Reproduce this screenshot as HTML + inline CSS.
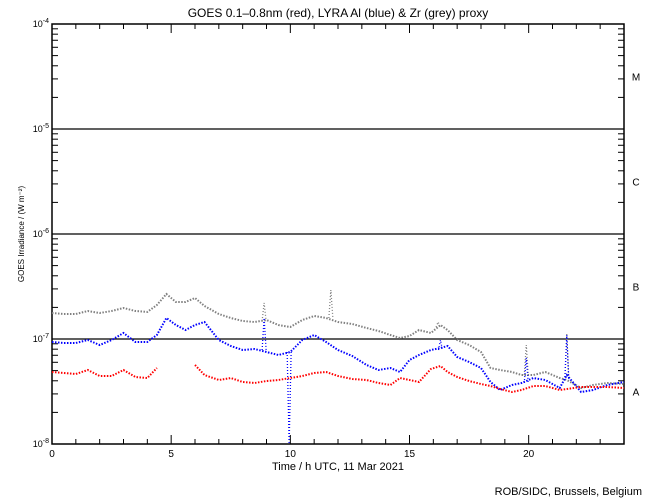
<!DOCTYPE html>
<html><head><meta charset="utf-8"><style>
body{margin:0;background:#fff}
svg{display:block;font-family:"Liberation Sans",sans-serif}
</style></head><body>
<svg id="chart" width="650" height="500" viewBox="0 0 650 500">
<text x="338" y="17" text-anchor="middle" font-size="12">GOES 0.1–0.8nm (red), LYRA Al (blue) &amp; Zr (grey) proxy</text>
<text x="338" y="470" text-anchor="middle" font-size="11">Time / h UTC, 11 Mar 2021</text>
<text transform="translate(24,234) rotate(-90)" text-anchor="middle" font-size="8">GOES Irradiance / (W m⁻²)</text>
<text x="642" y="495" text-anchor="end" font-size="11">ROB/SIDC, Brussels, Belgium</text>
<g id="axes"></g><g id="series"></g>
</svg>
<script>
const times=[0,0.5,1,1.5,2,2.5,3,3.5,4,4.4,4.8,5.2,5.6,6,6.4,7,7.5,8,8.5,9,9.5,10,10.5,11,11.5,12,12.6,13.2,13.7,14.2,14.6,15,15.4,15.9,16.3,16.6,17,17.5,18,18.4,18.8,19.3,19.7,20.2,20.7,21.3,21.6,22.2,22.7,23.3,24];
const redY=[372,373,374,370,376,376,370,377,378,368,null,null,null,365,375,380,378,382,383,381,380,378,376,373,372,376,379,380,383,385,378,380,382,369,366,372,377,381,384,386,389,392,390,386,386,390,389,387,387,387,388];
const blueY=[342,343,343,340,345,340,333,342,342,335,318,325,330,325,322,340,346,350,349,352,355,352,340,335,342,350,356,365,370,368,372,360,355,350,348,346,357,362,368,382,390,385,383,378,380,388,375,392,390,385,382];
const greyY=[313,314,314,311,313,311,308,311,312,305,294,302,302,298,306,314,318,321,322,320,325,327,320,316,318,322,324,328,331,335,338,336,330,333,325,330,340,345,352,368,370,372,375,375,372,378,380,388,385,383,384];
// isolated spikes (time, base pixel, tip pixel)
const greySpikeT=[8.9,11.7,16.2,19.9,21.6];
const greySpikeBase=[321,318,327,375,380];
const greySpikeTip=[303,290,322,345,334];
const blueSpikeT=[8.9,9.95,16.3,19.9,21.6];
const blueSpikeBase=[350,352,350,383,380];
const blueSpikeTip=[318,444,340,358,335];
const toLog=y=>y==null?null:-8+(444-y)/105;
const redLog=redY.map(toLog),blueLog=blueY.map(toLog),greyLog=greyY.map(toLog);
const yTickExp=[-8,-7,-6,-5,-4];
const xTickLabels=[0,5,10,15,20];
const classLabels=["A","B","C","M"];
const L=52,R=624,T=24,B=444;
const xs=t=>L+(t/24)*(R-L);
const ys=lg=>B-(lg+8)*(B-T)/4;
const NS="http://www.w3.org/2000/svg";
const ax=document.getElementById('axes'),sg=document.getElementById('series');
function mk(p,tag,a){const e=document.createElementNS(NS,tag);for(const k in a)e.setAttribute(k,a[k]);p.appendChild(e);return e;}
let fr=mk(ax,'rect',{x:L,y:T,width:R-L,height:B-T,fill:'none',stroke:'#000','stroke-width':1.5});


for(const e of yTickExp){
  const y=ys(e);
  if(e>-8&&e<-4){let g=mk(ax,'line',{x1:L,x2:R,y1:y,y2:y,stroke:'#000','stroke-width':1.3});
  
  }
  let t=mk(ax,'text',{x:L-3,y:y+3,'text-anchor':'end','font-size':9});
  
  
  t.innerHTML='10<tspan dy="-4" font-size="7">'+e+'</tspan>';
  if(e<-4)for(let m=2;m<=9;m++){const yy=ys(e+Math.log10(m));
    mk(ax,'line',{x1:L,x2:L+6,y1:yy,y2:yy,stroke:'#000'});mk(ax,'line',{x1:R-6,x2:R,y1:yy,y2:yy,stroke:'#000'});}
}
classLabels.forEach((c,i)=>{let t=mk(ax,'text',{x:636,y:ys(-7.5+i)+4,'text-anchor':'middle','font-size':10});
  
  
  t.textContent=c;});
for(let h=0;h<=24;h++){const x=xs(h),len=h%5==0?9:5;
  mk(ax,'line',{x1:x,x2:x,y1:B,y2:B-len,stroke:'#000'});mk(ax,'line',{x1:x,x2:x,y1:T,y2:T+len,stroke:'#000'});}
for(const h of xTickLabels){let t=mk(ax,'text',{x:xs(h),y:457,'text-anchor':'middle','font-size':10});
  
  
  t.textContent=h;}
function series(vals,color,name){
  let segs=[],cur=[];
  vals.forEach((v,i)=>{if(v==null){if(cur.length)segs.push(cur);cur=[];}else cur.push(xs(times[i]).toFixed(1)+','+ys(v).toFixed(1));});
  if(cur.length)segs.push(cur);
  for(const s of segs){let p=mk(sg,'polyline',{points:s.join(' '),fill:'none',stroke:color,'stroke-width':2,'stroke-dasharray':'1.5 1.5'});
    
    }
}
function spikes(tt,base,tip,color,name){
  tt.forEach((t,i)=>{const x=xs(t);
    let p=mk(sg,'polyline',{points:(x-2)+','+ys(toLog(base[i]))+' '+x+','+ys(toLog(tip[i]))+' '+(x+2)+','+ys(toLog(base[i])),fill:'none',stroke:color,'stroke-width':1.3,'stroke-dasharray':'1 2'});
    
    });
}
series(greyLog,'#808080','zr-proxy-series');
spikes(greySpikeT,greySpikeBase,greySpikeTip,'#808080','zr-spike');
series(blueLog,'#0000ff','al-proxy-series');
spikes(blueSpikeT,blueSpikeBase,blueSpikeTip,'#0000ff','al-spike');
series(redLog,'#ff0000','goes-series');
</script>
</body></html>
